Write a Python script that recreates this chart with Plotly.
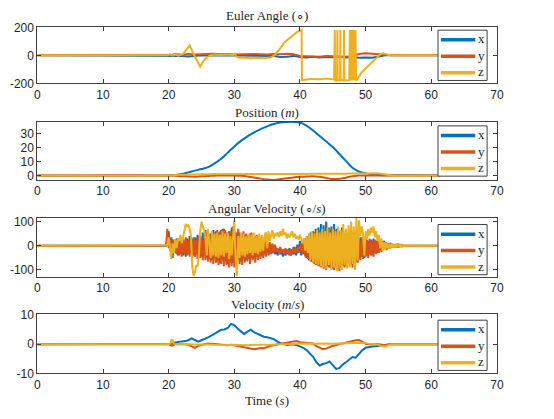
import numpy as np
import plotly.graph_objects as go
from plotly.subplots import make_subplots

# MATLAB default colours
C_X, C_Y, C_Z = '#0072BD', '#D95319', '#EDB120'
T_END = 61.3

# ---- Euler angle (deg) ----
eul_x_t = [20, 22, 23, 24, 25, 36, 37, 38, 39, 40, 41, 42, 43, 44, 45, 46, 47, 48, 49, 50, 51, 52, 53]
eul_x = [0, -5, -8, -5, 0, -5, -12, -10, -4, -12, -15, -10, -15, -12, -14, -10, -15, -12, -18, -15, -18, -8, 0]

eul_y_t = [20, 20.5, 21, 22, 23, 24, 25, 26, 27, 28, 29, 30, 31, 32, 33, 34, 35, 36, 37, 38, 39,
           40, 41, 42, 43, 44, 45, 46, 47, 48, 49, 50, 51, 52, 53, 54]
eul_y = [0, 5, 8, 5, 10, 6, 8, 10, 12, 8, 10, 6, 8, 5, 10, 8, 6, 10, 8, 12, 8,
         -5, -8, -6, -10, -5, -8, -6, -10, -5, 10, 15, 12, 8, 2, 0]

eul_z_t = [19.8, 20.2, 20.6, 21.0, 21.5, 22.2, 23.2, 23.9, 24.8, 25.5, 26.2, 27, 28, 29, 29.8, 30.1, 30.3,
           30.7, 31.5, 32.5, 33.5, 34.5, 35.5, 36, 36.8, 37.7, 38.6, 39.6, 40.25, 40.3, 41, 42, 43, 44,
           45.2, 45.3, 45.35, 45.65, 45.7, 45.75, 46.1, 46.15, 46.2, 46.65, 46.7, 46.75, 47.5, 47.6,
           47.65, 47.7, 47.8, 47.85, 47.95, 48.0, 48.1, 48.15, 48.25, 48.3, 48.4, 48.45, 48.55,
           48.7, 49.4, 50.4, 51.3, 52.25, 52.7, 53.7]
eul_z = [0, 8, -3, 5, -2, 10, 70, 0, -80, -28, -2, 5, 2, 6, 3, 12, -10,
         -18, -15, -20, -17, -20, -15, -5, 38, 96, 127, 167, 180, -178, -172, -168, -170, -166,
         -172, 180, -180, -178, 180, -180, -176, 180, -180, -175, 180, -180, -176, 180,
         -180, 180, -180, 180, -180, 180, -180, 180, -180, 180, -180, 180, -180,
         -175, -122, -75, -33, 9, 14, 0]

# ---- Position (m) ----
pos_t = [20, 21, 22, 23, 24, 25, 26, 27, 28, 29, 30, 31, 32, 33, 34, 35, 36, 37, 38, 39, 40,
         41, 42, 43, 44, 45, 46, 47, 48, 49, 50, 51, 52, 53, 54]
pos_x = [0, 0.4, 1.1, 2.2, 3.5, 4.6, 6, 8.7, 12, 16.5, 21, 25, 28.3, 31, 33.5, 35.5, 37.2, 38.2, 38.6, 38.7, 38.3,
         36, 32.5, 28.5, 24.5, 20.5, 15.5, 10.5, 5.5, 2.8, 1.5, 0.8, 0.4, 0.2, 0.1]
pos_y = [0, -0.3, -0.5, -0.7, -0.9, -0.6, -0.4, -0.2, 0, 0, 0, -0.3, -0.8, -1.5, -2.3, -3, -3.2, -2.6, -2, -1.4, -1,
         -0.7, -0.6, -1, -1.8, -2.6, -2.4, -1.6, -0.6, 0, 0, 0, 0, 0, 0]
pos_z = [0, 0.3, 0.5, 0.6, 0.7, 0.8, 0.9, 1, 1, 1, 1, 1, 1, 1, 1, 1, 1, 1, 1, 1.1, 1.1,
         1.1, 1.2, 1.2, 1.2, 1.3, 1.3, 1.3, 1.4, 1.4, 1.4, 1.5, 1.5, 0.8, 0]

# ---- Angular velocity (deg/s), sampled every 0.2 s from 19.6 s ----
av_t0, av_dt = 19.6, 0.2
av_x = [0, 20, 60, -20, 35, -50, 25, -30, 30, -40, 25, -35, 30, -40, 20, -45, 30, -35, 40, -30,
        30, -40, 35, -30, 45, -35, 40, -45, 55, -40, 65, -50, 60, -55, 50, -60, 65, -50, 60, -65,
        55, -70, 65, -60, 70, -65, 55, -75, 60, -70, 75, -70, 60, -75, 55, -60, 55, -65, 50, -55,
        45, -60, 40, -55, 50, -50, 35, -55, 40, -45, 30, -45, 25, -40, 20, -35, 15, -30, 10, -35,
        5, -30, 0, -35, -10, -40, -15, -35, -20, -45, -15, -40, -20, -35, -10, -40, -15, -35, -5, -40,
        5, -30, 20, -40, 10, -35, 30, -50, 40, -60, 55, -65, 60, -75, 70, -80, 75, -85, 90, -80,
        85, -90, 100, -85, 75, -90, 80, -95, 90, -85, 70, -95, 60, -90, 75, -85, 50, -80, 45, -70,
        40, -75, 35, -70, 30, -65, 30, -55, 35, -45, 25, -50, 30, -40, 20, -35, 25, -40, 30, -30,
        20, -30, 35, -20, 15, -15, 20, -10, 12, -8, 10, -8, 7, -5, 6, -4, 5, -3, 2, -2, 2, -1, 0]
av_y = [0, 70, -10, 30, -20, 25, -30, 20, -35, 30, -40, 20, -45, 30, -35, 35, -40, 25, -45, 30,
        -50, 35, -45, 25, -55, 40, -50, 30, -60, 50, -60, 55, -65, 45, -70, 60, -75, 55, -70, 65,
        -80, 60, -75, 70, -85, 65, -80, 55, -90, 60, -85, 80, -90, 55, -80, 70, -75, 50, -80, 60,
        -70, 50, -65, 45, -75, 55, -60, 40, -70, 45, -60, 35, -55, 30, -50, 25, -45, 20, -40, 15,
        -35, 10, -30, 5, -25, -10, -35, -5, -30, -15, -35, -10, -30, -15, -40, -20, -35, -5, -30, -10,
        -30, 0, -25, 10, -35, 15, -45, 25, -55, 35, -65, 50, -70, 55, -80, 65, -85, 60, -90, 70,
        -95, 60, -100, 55, -90, 70, -95, 60, -100, 65, -90, 55, -105, 60, -95, 50, -90, 45, -85, 55,
        -80, 40, -90, 35, -75, 30, -70, 25, -60, 35, -55, 30, -45, 25, -50, 30, -40, 20, -45, 25,
        -35, 20, -30, 15, -25, 20, -15, 12, -18, 10, -10, 12, -8, 6, -7, 5, -6, 4, -3, 3, -2, 1, 0]
av_z = [0, 2, 35, -20, -55, 10, -30, 25, -10, 30, 20, 45, 10, 35, 60, 90, 80, 85, 70, 40,
        -90, -125, -110, -80, -85, -40, 60, 100, 80, 65, 40, -40, 70, 10, -50, 60, -40, 50, -45, 55,
        -50, 45, -40, 60, -45, 50, -30, 55, -55, 40, -40, 30, 105, -60, -125, 40, -50, 55, -40, 50,
        -45, 40, -35, 50, -30, 45, -40, 55, -30, 40, -35, 50, -25, 45, -20, 40, 55, -10, 60, 20,
        45, 65, 30, 50, 40, 55, 35, 60, 40, 70, 45, 55, 30, 50, 35, 45, 60, 35, 50, 30,
        40, 25, 45, 30, 10, 30, -20, 40, -30, 50, -60, 60, -70, 50, -75, 65, -80, 55, -85, 70,
        -90, 60, -95, 75, -80, 55, -100, 70, -90, 60, -105, 80, -95, 65, -100, 90, -80, 70, -95, 85,
        -90, 100, -75, 80, -100, 115, -60, 105, 40, 80, 50, -40, 60, 30, 70, 40, 75, 55, 80, 35,
        60, 20, 45, -10, 30, -20, 15, -15, 10, -10, 8, -12, 10, -8, 5, -6, 8, -5, 4, -3, 3, -2, 1]

# ---- Velocity (m/s), sampled every 0.5 s from 20 s ----
vel_t0, vel_dt = 20.0, 0.5
vel_x = [0, 0.2, 0.6, 0.9, 1.0, 1.1, 1.4, 2.0, 1.3, 0.9, 1.4, 1.8, 2.4, 3.0, 3.6, 4.3, 5.0, 5.1, 5.6, 7.0,
         6.6, 5.4, 4.3, 3.5, 4.4, 5.0, 4.2, 3.6, 3.0, 2.6, 2.4, 2.0, 1.8, 1.0, 0.4, 0.1, -0.2, -0.1, 0, -0.3,
         -0.7, -1.2, -2.0, -3.0, -4.3, -6.2, -7.3, -6.8, -6.5, -5.9, -7.3, -8.5, -8.2, -7.0, -6.2, -5.2, -4.4,
         -4.6, -3.2, -2.0, -1.2, -0.9, -0.8, -0.7, -0.5, -0.3, -0.2, -0.1, 0]
vel_y = [0, -0.5, 0.1, 0, 0.1, 0, -0.2, -0.8, -1.2, -0.5, -0.2, 0.1, 0.3, 0.2, 0.1, -0.2, -0.3, -0.2, -0.3, -0.2,
         -0.4, -0.6, -0.8, -0.9, -1.1, -1.5, -1.7, -1.5, -1.3, -1.4, -0.9, -0.5, -0.3, 0, 0.3, 0.4, 0.5, 0.8, 1.0, 1.1,
         0.7, 0.6, 0.5, 0.4, 0.3, -0.6, -1.3, -1.7, -1.5, -1.0, -0.5, -0.3, 0.2, 0.3, 0.6, 0.9, 1.1, 1.4, 1.5,
         0.8, 0.2, 0, -0.1, 0, 0, -0.2, -0.3, -0.1, 0]
vel_z_t = [20, 20.3, 20.45, 20.6, 20.75, 21, 22, 23, 24, 25, 26, 27, 28, 29, 30, 31, 32, 33, 34, 35, 36, 37,
           38, 39, 40, 41, 42, 43, 44, 45, 46, 47, 48, 49, 50, 51, 52, 52.5, 53, 53.5, 54]
vel_z = [0, 0.4, 1.6, 1.5, 0.3, 0, 0.1, 0, -0.1, 0, -0.1, -0.2, -0.3, -0.3, -0.2, -0.3, -0.3, -0.2, -0.3, -0.2,
         -0.1, 0, 0.1, 0.2, 0.2, 0.3, 0.2, 0.3, 0.3, 0.2, 0.3, 0.3, 0.4, 0.5, 0.4, 0, -0.2, -0.7, -0.8, -0.3, 0]


def pad(t, v):
    # flat zero before the run starts and after it ends
    return [0] + list(t) + [T_END], [0] + list(v) + [0]


def grid(t0, dt, v):
    return list(np.round(t0 + dt * np.arange(len(v)), 2))


panels = [
    [(eul_x_t, eul_x), (eul_y_t, eul_y), (eul_z_t, eul_z)],
    [(pos_t, pos_x), (pos_t, pos_y), (pos_t, pos_z)],
    [(grid(av_t0, av_dt, av_x), av_x), (grid(av_t0, av_dt, av_y), av_y), (grid(av_t0, av_dt, av_z), av_z)],
    [(grid(vel_t0, vel_dt, vel_x), vel_x), (grid(vel_t0, vel_dt, vel_y), vel_y), (vel_z_t, vel_z)],
]
titles = ['Euler Angle (∘)', 'Position (<i>m</i>)', 'Angular Velocity (∘/<i>s</i>)', 'Velocity (<i>m</i>/<i>s</i>)']
y_ranges = [[-200, 200], [-3.3, 38.6], [-128, 116], [-10, 10.3]]
y_ticks = [[-200, 0, 200], [0, 10, 20, 30], [-100, 0, 100], [-10, 0, 10]]
names = ['x', 'y', 'z']
colors = [C_X, C_Y, C_Z]

W, H = 554, 419
box_top = [21, 119, 218, 318]
box_bot = [79, 179, 279, 379]
leg_top = [24, 123, 225, 324]
title_y = [9, 109, 208, 308]
x0, x1 = 35, 503

fig = make_subplots(rows=4, cols=1)
axis_col = '#404040'
text_col = '#262626'
serif = 'Liberation Serif'
sans = 'Liberation Sans'


def px(x):
    return x / W


def py(y):
    return 1 - y / H


for i, panel in enumerate(panels):
    for (t, v), name, col in zip(panel, names, colors):
        tt, vv = pad(t, v)
        fig.add_trace(go.Scatter(x=tt, y=vv, mode='lines', name=name,
                                 line=dict(color=col, width=2, shape='spline' if i == 1 else 'linear'),
                                 showlegend=False, hoverinfo='skip'), row=i + 1, col=1)

    sfx = '' if i == 0 else str(i + 1)
    fig.layout['xaxis' + sfx].update(
        domain=[px(x0), px(x1)], range=[0, 70], tickvals=list(range(0, 80, 10)),
        ticks='inside', ticklen=4, tickcolor=axis_col, showline=True, linecolor=axis_col,
        linewidth=1, mirror='ticks', showgrid=False, zeroline=False,
        tickfont=dict(family=sans, size=12, color=text_col))
    fig.layout['yaxis' + sfx].update(
        domain=[py(box_bot[i]), py(box_top[i])], range=y_ranges[i],
        tickvals=y_ticks[i], ticktext=[str(v) for v in y_ticks[i]],
        ticks='inside', ticklen=4, tickcolor=axis_col, showline=True, linecolor=axis_col,
        linewidth=1, mirror='ticks', showgrid=False, zeroline=False,
        tickfont=dict(family=sans, size=12, color=text_col))

    # MATLAB-style legend box inside the axes
    top = leg_top[i]
    fig.add_shape(type='rect', xref='paper', yref='paper', x0=px(443), x1=px(493),
                  y0=py(top), y1=py(top + 52), fillcolor='white', line=dict(color=axis_col, width=1))
    for k, (name, col) in enumerate(zip(names, colors)):
        yy = top + 10 + 17 * k
        fig.add_shape(type='line', xref='paper', yref='paper', x0=px(446), x1=px(481),
                      y0=py(yy), y1=py(yy), line=dict(color=col, width=3.5))
        fig.add_annotation(text=name, x=px(487), y=py(yy - 1), xref='paper', yref='paper',
                           showarrow=False, xanchor='center', yanchor='middle',
                           font=dict(family=serif, size=13, color=text_col))

    fig.add_annotation(text=titles[i], x=px((x0 + x1) / 2), y=py(title_y[i]), xref='paper', yref='paper',
                       showarrow=False, xanchor='center', yanchor='middle',
                       font=dict(family=serif, size=13, color=text_col))

fig.add_annotation(text='Time (<i>s</i>)', x=px((x0 + x1) / 2), y=py(407), xref='paper', yref='paper',
                   showarrow=False, xanchor='center', yanchor='middle',
                   font=dict(family=serif, size=13, color=text_col))

fig.update_layout(width=W, height=H, margin=dict(l=0, r=0, t=0, b=0), showlegend=False,
                  paper_bgcolor='white', plot_bgcolor='white')

# drop the browser's default page margin so the figure sits at the window corner
fig.write_html("out.html", config={'displayModeBar': False},
               post_script="document.body.style.margin='0';")
